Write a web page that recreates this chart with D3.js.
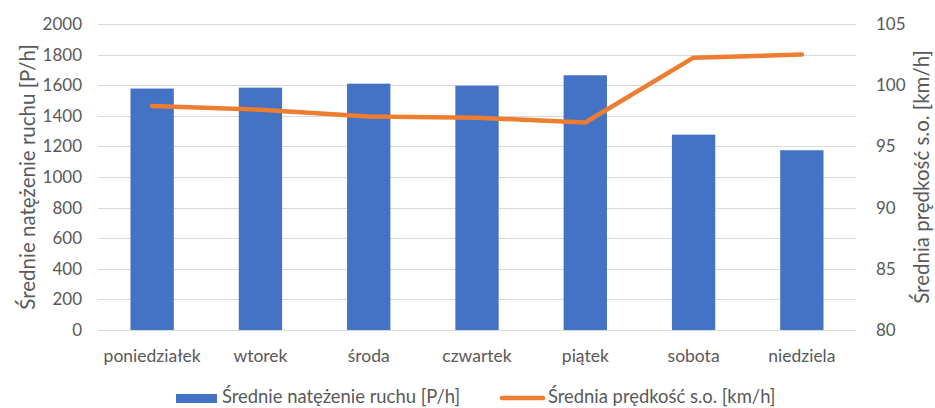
<!DOCTYPE html>
<html><head><meta charset="utf-8">
<script src="https://cdn.jsdelivr.net/npm/d3@7"></script>
<style>
body{margin:0;background:#fff;}
text{font-family:Lato, "Liberation Sans", sans-serif;fill:#595959;}
</style></head>
<body><svg id="c" width="935" height="408"></svg>
<script>
const categories = ["poniedziałek","wtorek","środa","czwartek","piątek","sobota","niedziela"];
const volume = [1578, 1584, 1610, 1597, 1665, 1277, 1175];
const speed = [98.3, 98.0, 97.45, 97.35, 96.95, 102.25, 102.5];
const leftTicks = [0,200,400,600,800,1000,1200,1400,1600,1800,2000];
const rightTicks = [80,85,90,95,100,105];
const volumeLabel = "Średnie natężenie ruchu [P/h]";
const speedLabel = "Średnia prędkość s.o. [km/h]";

const svg = d3.select("#c");
const L = 98, R = 856, T = 24, B = 330;
const x = d3.scaleBand().domain(categories).range([L, R]).paddingInner(0.6).paddingOuter(0.3);
const yL = d3.scaleLinear().domain([0, 2000]).range([B, T]);
const yR = d3.scaleLinear().domain([80, 105]).range([B, T]);
const tickFs = 17, catFs = 17.5, legFs = 18.4, titleFs = 20.5;

// gridlines
svg.append("g").selectAll("line").data(leftTicks).join("line")
  .attr("x1", L).attr("x2", R)
  .attr("y1", d => Math.round(yL(d)) + 0.5).attr("y2", d => Math.round(yL(d)) + 0.5)
  .attr("stroke", "#D9D9D9").attr("stroke-width", 1);

// left axis
const axL = d3.axisLeft(yL).tickValues(leftTicks).tickFormat(d3.format("d")).tickSize(0).tickPadding(16);
const gL = svg.append("g").attr("transform", `translate(${L},0)`).call(axL);
gL.select(".domain").remove();
gL.selectAll("text").attr("font-size", tickFs).attr("fill", "#595959").attr("font-family", "Lato");

// right axis
const axR = d3.axisRight(yR).tickValues(rightTicks).tickSize(0).tickPadding(20);
const gR = svg.append("g").attr("transform", `translate(${R},0)`).call(axR);
gR.select(".domain").remove();
gR.selectAll("text").attr("font-size", tickFs).attr("fill", "#595959").attr("font-family", "Lato");

// bars
svg.append("g").selectAll("rect").data(categories).join("rect")
  .attr("x", d => x(d)).attr("width", x.bandwidth())
  .attr("y", (d,i) => yL(volume[i])).attr("height", (d,i) => yL(0) - yL(volume[i]))
  .attr("fill", "#4472C4");

// line
const line = d3.line().x((d,i) => x(categories[i]) + x.bandwidth()/2).y(d => yR(d));
svg.append("path").datum(speed).attr("d", line)
  .attr("fill", "none").attr("stroke", "#ED7D31").attr("stroke-width", 4.5)
  .attr("stroke-linecap", "round").attr("stroke-linejoin", "round");

// x axis labels
const axX = d3.axisBottom(x).tickSize(0).tickPadding(0);
const gX = svg.append("g").attr("transform", `translate(0,${B})`).call(axX);
gX.select(".domain").remove();
gX.selectAll("text").attr("font-size", catFs).attr("fill", "#595959").attr("font-family", "Lato")
  .attr("y", 32).attr("dy", 0);

// axis titles
svg.append("text").attr("transform", `translate(35,${(T+B)/2}) rotate(-90)`)
  .attr("text-anchor", "middle").attr("font-size", titleFs).text(volumeLabel);
svg.append("text").attr("transform", `translate(914,${(T+B)/2}) rotate(-90)`)
  .attr("text-anchor", "middle").attr("font-size", titleFs).attr("dy", "0.72em").text(speedLabel);

// legend
const lg = svg.append("g");
lg.append("rect").attr("x", 176).attr("y", 394).attr("width", 41).attr("height", 9).attr("fill", "#4472C4");
lg.append("text").attr("x", 222).attr("y", 403).attr("font-size", legFs).text(volumeLabel);
lg.append("line").attr("x1", 502).attr("x2", 543).attr("y1", 398).attr("y2", 398)
  .attr("stroke", "#ED7D31").attr("stroke-width", 4.5).attr("stroke-linecap", "round");
lg.append("text").attr("x", 548).attr("y", 403).attr("font-size", legFs).text(speedLabel);
</script></body></html>
